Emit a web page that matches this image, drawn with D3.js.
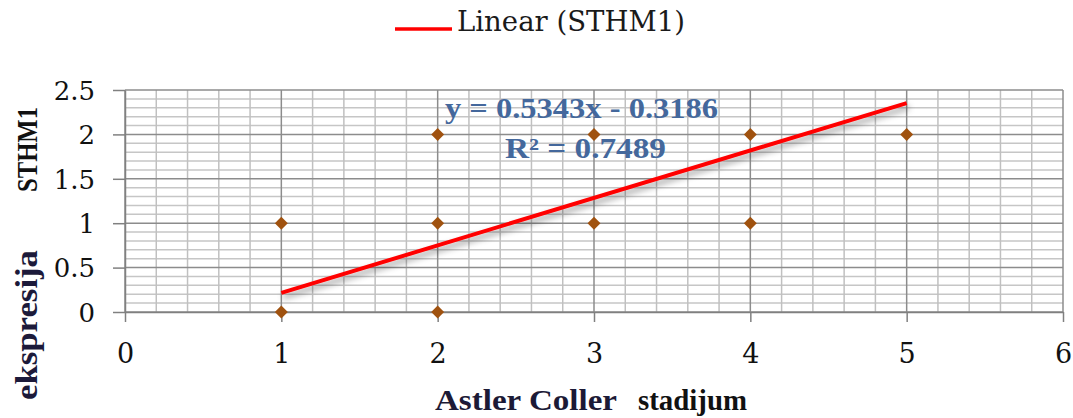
<!DOCTYPE html>
<html>
<head>
<meta charset="utf-8">
<script src="https://cdn.jsdelivr.net/npm/d3@7"></script>
<style>
  html, body { margin: 0; padding: 0; background: #fff; }
  svg { display: block; }
  svg text { font-family: "Liberation Serif", serif; }
  svg text.dv { font-family: "DejaVu Serif", serif; }
</style>
</head>
<body>
<svg id="chart" width="1073" height="418"></svg>
<script>
// ---- data ----
const pointsX = [1, 1, 2, 2, 2, 3, 3, 4, 4, 5];
const pointsY = [0, 1, 0, 1, 2, 1, 2, 1, 2, 2];
const trendSlope = 0.5343;
const trendIntercept = -0.3186;
const trendRange = [1, 5];
const xTicks = [0, 1, 2, 3, 4, 5, 6];
const yTicks = [0, 0.5, 1, 1.5, 2, 2.5];
const xMinorTicks = [0.2,0.4,0.6,0.8,1.2,1.4,1.6,1.8,2.2,2.4,2.6,2.8,3.2,3.4,3.6,3.8,4.2,4.4,4.6,4.8,5.2,5.4,5.6,5.8];
const yMinorTicks = [0.1,0.2,0.3,0.4,0.6,0.7,0.8,0.9,1.1,1.2,1.3,1.4,1.6,1.7,1.8,1.9,2.1,2.2,2.3,2.4];
const equationText = "y = 0.5343x - 0.3186";
const r2Text = "R² = 0.7489";
const legendLabel = "Linear (STHM1)";

// ---- layout ----
const svg = d3.select("#chart");
const x = d3.scaleLinear().domain([0, 6]).range([125, 1063]);
const y = d3.scaleLinear().domain([0, 2.5]).range([312, 90]);

const defs = svg.append("defs");
const f = defs.append("filter").attr("id", "shadow")
  .attr("x", "-10%").attr("y", "-50%").attr("width", "130%").attr("height", "250%");
f.append("feDropShadow").attr("dx", 2).attr("dy", 4).attr("stdDeviation", 3)
  .attr("flood-color", "#000").attr("flood-opacity", 0.4);

// grid
const grid = svg.append("g");
grid.selectAll(".hmin").data(yMinorTicks).join("line")
  .attr("x1", x(0)).attr("x2", x(6)).attr("y1", d => y(d)).attr("y2", d => y(d))
  .attr("stroke", "#c6c6c6").attr("stroke-width", 1.5);
grid.selectAll(".vmin").data(xMinorTicks).join("line")
  .attr("y1", y(0)).attr("y2", y(2.5)).attr("x1", d => x(d)).attr("x2", d => x(d))
  .attr("stroke", "#c0c0c0").attr("stroke-width", 1.5);
grid.selectAll(".hmaj").data(yTicks).join("line")
  .attr("x1", x(0)).attr("x2", x(6)).attr("y1", d => y(d)).attr("y2", d => y(d))
  .attr("stroke", "#8c8c8c").attr("stroke-width", 1.5);
grid.selectAll(".vmaj").data(xTicks).join("line")
  .attr("y1", y(0)).attr("y2", y(2.5)).attr("x1", d => x(d)).attr("x2", d => x(d))
  .attr("stroke", "#8c8c8c").attr("stroke-width", 1.5);

// axes
const xAxis = svg.append("g").attr("transform", `translate(0,${y(0)})`)
  .call(d3.axisBottom(x).tickValues(xTicks).tickSize(10).tickSizeOuter(0).tickFormat(d3.format("d")));
xAxis.attr("font-family", null).attr("font-size", null);
xAxis.select(".domain").attr("stroke", "#808080").attr("stroke-width", 1.5);
xAxis.selectAll(".tick line").attr("stroke", "#808080").attr("stroke-width", 1.5);
xAxis.selectAll(".tick text").attr("y", 51).attr("dy", 0).attr("class", "dv")
  .attr("font-size", 27).attr("fill", "#111");

const yAxis = svg.append("g").attr("transform", `translate(${x(0)},0)`)
  .call(d3.axisLeft(y).tickValues(yTicks).tickSize(12).tickSizeOuter(0).tickPadding(18).tickFormat(d => String(d)));
yAxis.attr("font-family", null).attr("font-size", null);
yAxis.select(".domain").attr("stroke", "#808080").attr("stroke-width", 1.5);
yAxis.selectAll(".tick line").attr("stroke", "#808080").attr("stroke-width", 1.5);
yAxis.selectAll(".tick text").attr("dy", "0.36em").attr("class", "dv")
  .attr("font-size", 26).attr("fill", "#111");

// trend line
const trendData = trendRange.map(v => ({x: v, y: trendSlope * v + trendIntercept}));
svg.append("path").datum(trendData)
  .attr("d", d3.line().x(d => x(d.x)).y(d => y(d.y)))
  .attr("stroke", "#ff0000").attr("stroke-width", 4).attr("fill", "none")
  .attr("filter", "url(#shadow)");

// points
const pts = pointsX.map((v, i) => ({x: v, y: pointsY[i]}));
svg.append("g").selectAll("path").data(pts).join("path")
  .attr("d", d3.symbol(d3.symbolSquare, 84)())
  .attr("transform", d => `translate(${x(d.x)},${y(d.y)}) rotate(45)`)
  .attr("fill", "#a0520f");

// equation labels
svg.append("text").attr("x", 445).attr("y", 118)
  .attr("textLength", 273).attr("lengthAdjust", "spacingAndGlyphs")
  .attr("font-size", 29).attr("font-weight", "bold").attr("fill", "#44689c")
  .text(equationText);
svg.append("text").attr("x", 505).attr("y", 158)
  .attr("textLength", 161).attr("lengthAdjust", "spacingAndGlyphs")
  .attr("font-size", 29).attr("font-weight", "bold").attr("fill", "#44689c")
  .text(r2Text);

// legend
svg.append("line").attr("x1", 395).attr("x2", 452).attr("y1", 29).attr("y2", 29)
  .attr("stroke", "#ff0000").attr("stroke-width", 3.5);
svg.append("text").attr("x", 457).attr("y", 31).attr("class", "dv")
  .attr("textLength", 228).attr("lengthAdjust", "spacingAndGlyphs")
  .attr("font-size", 28).attr("fill", "#1a1a1a").text(legendLabel);

// x title
svg.append("text").attr("x", 435).attr("y", 410)
  .attr("textLength", 182).attr("lengthAdjust", "spacingAndGlyphs")
  .attr("font-size", 30).attr("font-weight", "bold").attr("fill", "#1c1a36").text("Astler Coller");
svg.append("text").attr("x", 638).attr("y", 410)
  .attr("textLength", 109).attr("lengthAdjust", "spacingAndGlyphs")
  .attr("font-size", 30).attr("font-weight", "bold").attr("fill", "#111").text("stadijum");

// y title (rotated)
svg.append("text").attr("transform", "translate(37,400) rotate(-90)")
  .attr("textLength", 150).attr("lengthAdjust", "spacingAndGlyphs")
  .attr("font-size", 31).attr("font-weight", "bold").attr("fill", "#1c1a3a").text("ekspresija");
svg.append("text").attr("transform", "translate(37,192) rotate(-90)")
  .attr("textLength", 85).attr("lengthAdjust", "spacingAndGlyphs")
  .attr("font-size", 29).attr("font-weight", "bold").attr("fill", "#111").text("STHM1");
</script>
</body>
</html>
